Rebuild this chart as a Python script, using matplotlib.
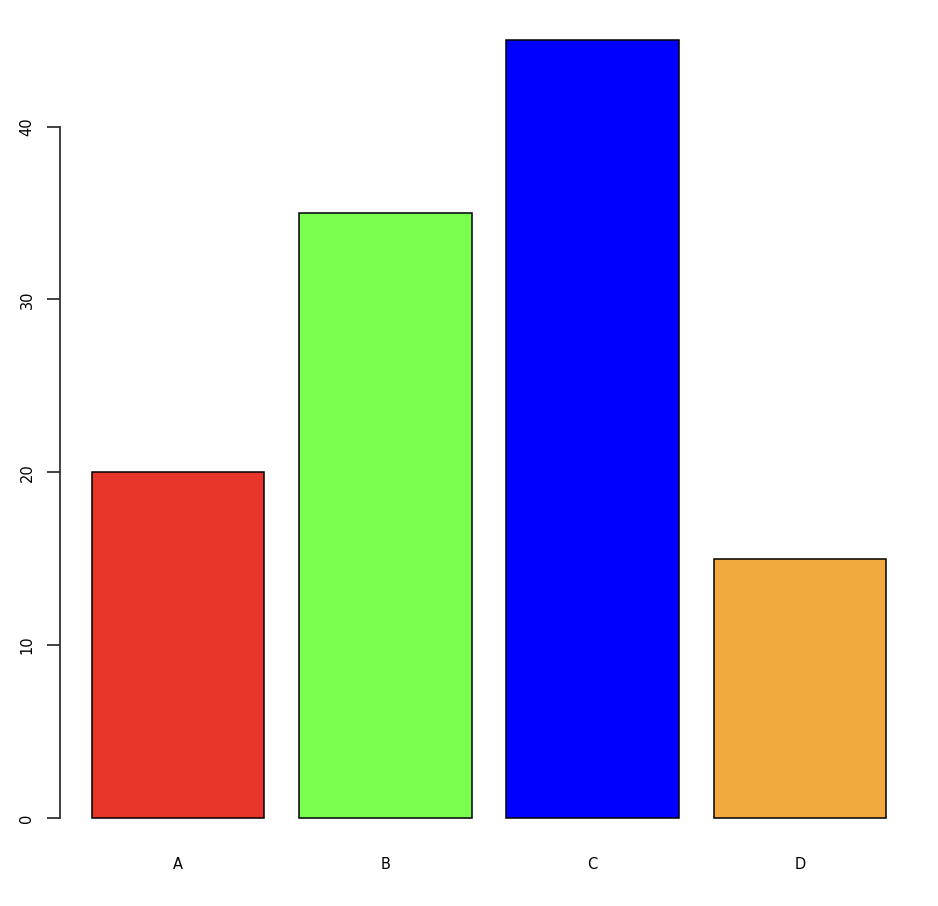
import matplotlib
matplotlib.use("Agg")
import matplotlib.pyplot as plt

categories = ["A", "B", "C", "D"]
values = [20, 35, 45, 15]
colors = ["#E8352A", "#7AFF4E", "#0000FF", "#F0AA3E"]
yticks = [0, 10, 20, 30, 40]

W, H = 938, 906
fig = plt.figure(figsize=(W / 100, H / 100), dpi=100)
ax = fig.add_axes([60 / W, (H - 849) / H, (918 - 60) / W, (849 - 9) / H])

lefts = [0.2 + 1.2 * i for i in range(len(values))]
centers = [l + 0.5 for l in lefts]
ax.bar(centers, values, width=1.0, color=colors, edgecolor="black", linewidth=1.1)

ax.set_xlim(0.016, 4.984)
ax.set_ylim(-1.8, 46.8)
for s in ["top", "right", "bottom"]:
    ax.spines[s].set_visible(False)
ax.spines["left"].set_bounds(0, 40)
ax.spines["left"].set_color("#333333")
ax.spines["left"].set_linewidth(1.3)

ax.set_yticks(yticks)
ax.set_yticklabels([str(t) for t in yticks], rotation=90, va="center", fontsize=10.5)
ax.tick_params(axis="y", length=9.4, width=1.3, color="#333333", pad=9)
ax.set_xticks(centers)
ax.set_xticklabels(categories, fontsize=10.5)
ax.tick_params(axis="x", length=0, pad=6)

fig.savefig("out.png", dpi=100)
